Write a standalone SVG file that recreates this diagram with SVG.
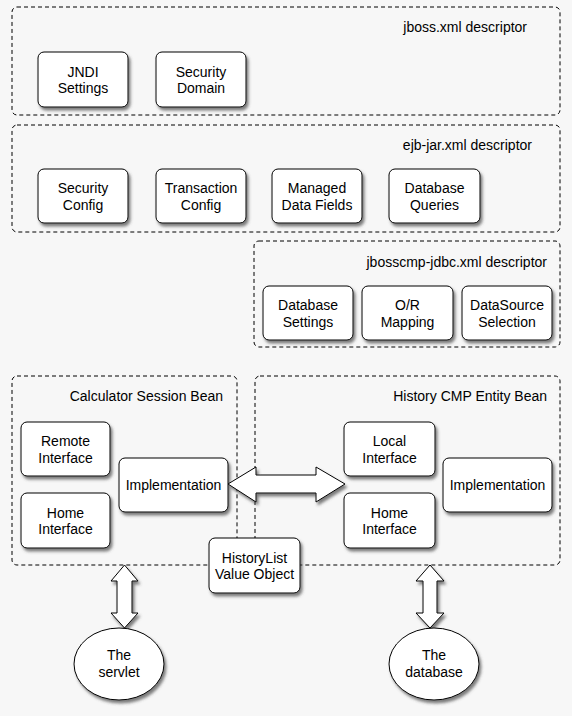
<svg xmlns="http://www.w3.org/2000/svg" width="572" height="716" viewBox="0 0 572 716">
<defs>
<filter id="sh" x="-20%" y="-20%" width="150%" height="150%">
<feDropShadow dx="2" dy="3" stdDeviation="1.5" flood-color="#444" flood-opacity="0.7"/>
</filter>
</defs>
<style>
.grp{fill:none;stroke:#000;stroke-width:1;stroke-dasharray:4,3}
.box{fill:#fff;stroke:#000;stroke-width:1;filter:url(#sh)}
.t{font-family:"Liberation Sans",Arial,Helvetica,sans-serif;font-size:14px;fill:#000;text-anchor:middle}
.ti{font-family:"Liberation Sans",Arial,Helvetica,sans-serif;font-size:14px;fill:#000;text-anchor:end}
.arr{fill:#fff;stroke:#000;stroke-width:1;filter:url(#sh)}
</style>
<rect width="572" height="716" fill="#f7f7f7"/>

<g id="jboss-xml">
<rect class="grp" x="12" y="7" width="548" height="108" rx="5"/>
<text class="ti" x="527" y="32">jboss.xml descriptor</text>
</g>
<g id="jndi-settings">
<rect class="box" x="38" y="52" width="90" height="55" rx="6"/>
<text class="t" x="83" y="76.5">JNDI</text><text class="t" x="83" y="93">Settings</text>
</g>
<g id="security-domain">
<rect class="box" x="156" y="52" width="90" height="55" rx="6"/>
<text class="t" x="201" y="76.5">Security</text><text class="t" x="201" y="93">Domain</text>
</g>

<g id="ejb-jar-xml">
<rect class="grp" x="12" y="125" width="548" height="107" rx="5"/>
<text class="ti" x="532" y="150">ejb-jar.xml descriptor</text>
</g>
<g id="security-config">
<rect class="box" x="38" y="169" width="90" height="54" rx="6"/>
<text class="t" x="83" y="193">Security</text><text class="t" x="83" y="209.5">Config</text>
</g>
<g id="transaction-config">
<rect class="box" x="156" y="169" width="90" height="54" rx="6"/>
<text class="t" x="201" y="193">Transaction</text><text class="t" x="201" y="209.5">Config</text>
</g>
<g id="managed-data-fields">
<rect class="box" x="272" y="169" width="90" height="54" rx="6"/>
<text class="t" x="317" y="193">Managed</text><text class="t" x="317" y="209.5">Data Fields</text>
</g>
<g id="database-queries">
<rect class="box" x="389" y="169" width="91" height="54" rx="6"/>
<text class="t" x="434.5" y="193">Database</text><text class="t" x="434.5" y="209.5">Queries</text>
</g>

<g id="jbosscmp-jdbc-xml">
<rect class="grp" x="254" y="241" width="306" height="106" rx="5"/>
<text class="ti" x="547" y="267">jbosscmp-jdbc.xml descriptor</text>
</g>
<g id="database-settings">
<rect class="box" x="263" y="286" width="90" height="54" rx="6"/>
<text class="t" x="308" y="310">Database</text><text class="t" x="308" y="326.5">Settings</text>
</g>
<g id="or-mapping">
<rect class="box" x="362" y="286" width="91" height="54" rx="6"/>
<text class="t" x="407.5" y="310">O/R</text><text class="t" x="407.5" y="326.5">Mapping</text>
</g>
<g id="datasource-selection">
<rect class="box" x="462" y="286" width="90" height="54" rx="6"/>
<text class="t" x="507" y="310">DataSource</text><text class="t" x="507" y="326.5">Selection</text>
</g>

<g id="calculator-session-bean">
<rect class="grp" x="12" y="376" width="225" height="189" rx="5"/>
<text class="ti" x="223" y="401">Calculator Session Bean</text>
</g>
<g id="history-cmp-entity-bean">
<rect class="grp" x="255" y="376" width="305" height="189" rx="5"/>
<text class="ti" x="547" y="401">History CMP Entity Bean</text>
</g>

<g id="remote-interface">
<rect class="box" x="21" y="422" width="89" height="54" rx="6"/>
<text class="t" x="65.5" y="446">Remote</text><text class="t" x="65.5" y="462.5">Interface</text>
</g>
<g id="calc-home-interface">
<rect class="box" x="21" y="493" width="89" height="55" rx="6"/>
<text class="t" x="65.5" y="517.5">Home</text><text class="t" x="65.5" y="534">Interface</text>
</g>
<g id="calc-implementation">
<rect class="box" x="119" y="458" width="109" height="54" rx="6"/>
<text class="t" x="173.5" y="490">Implementation</text>
</g>
<g id="local-interface">
<rect class="box" x="344" y="422" width="91" height="54" rx="6"/>
<text class="t" x="389.5" y="446">Local</text><text class="t" x="389.5" y="462.5">Interface</text>
</g>
<g id="history-home-interface">
<rect class="box" x="344" y="493" width="91" height="55" rx="6"/>
<text class="t" x="389.5" y="517.5">Home</text><text class="t" x="389.5" y="534">Interface</text>
</g>
<g id="history-implementation">
<rect class="box" x="443" y="458" width="109" height="54" rx="6"/>
<text class="t" x="497.5" y="490">Implementation</text>
</g>

<g id="connectors">
<path class="arr" d="M228,484 L256,467 L256,475 L316,475 L316,467 L345,484 L316,502 L316,493 L256,493 L256,502 Z"/>
<path class="arr" d="M124.5,565 L138,581 L132,581 L132,613 L138,613 L124.5,628 L111,613 L117,613 L117,581 L111,581 Z"/>
<path class="arr" d="M430,565 L444,581 L437,581 L437,613 L444,613 L430,628 L416,613 L423,613 L423,581 L416,581 Z"/>
</g>

<g id="historylist-value-object">
<rect class="box" x="209" y="538" width="91" height="55" rx="6"/>
<text class="t" x="254.5" y="562.5">HistoryList</text><text class="t" x="254.5" y="579">Value Object</text>
</g>

<g id="the-servlet">
<ellipse class="box" cx="119" cy="664" rx="45" ry="36"/>
<text class="t" x="119" y="660">The</text><text class="t" x="119" y="676.5">servlet</text>
</g>
<g id="the-database">
<ellipse class="box" cx="434" cy="664" rx="45" ry="36"/>
<text class="t" x="434" y="660">The</text><text class="t" x="434" y="676.5">database</text>
</g>
</svg>
